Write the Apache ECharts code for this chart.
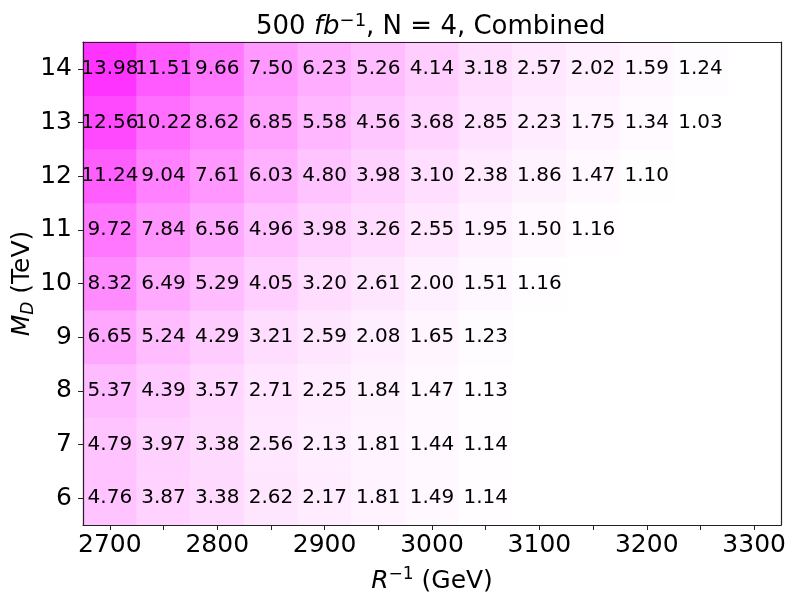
<!DOCTYPE html>
<html>
<head>
<meta charset="utf-8">
<script src="https://cdn.jsdelivr.net/npm/echarts@6/dist/echarts.min.js"></script>
<style>
  html, body { margin: 0; padding: 0; background: #fff; }
  #chart-main { width: 797px; height: 605px; }
</style>
</head>
<body>
<div id="chart-main"></div>
<script>
// R^-1 (GeV) bins, 50 GeV wide
const rInv = ['2700', '2750', '2800', '2850', '2900', '2950', '3000', '3050', '3100', '3150', '3200', '3250', '3300'];
// M_D (TeV)
const mD = ['6', '7', '8', '9', '10', '11', '12', '13', '14'];

// significance per M_D row, starting at R^-1 = 2700
const row6 = [4.76, 3.87, 3.38, 2.62, 2.17, 1.81, 1.49, 1.14];
const row7 = [4.79, 3.97, 3.38, 2.56, 2.13, 1.81, 1.44, 1.14];
const row8 = [5.37, 4.39, 3.57, 2.71, 2.25, 1.84, 1.47, 1.13];
const row9 = [6.65, 5.24, 4.29, 3.21, 2.59, 2.08, 1.65, 1.23];
const row10 = [8.32, 6.49, 5.29, 4.05, 3.20, 2.61, 2.00, 1.51, 1.16];
const row11 = [9.72, 7.84, 6.56, 4.96, 3.98, 3.26, 2.55, 1.95, 1.50, 1.16];
const row12 = [11.24, 9.04, 7.61, 6.03, 4.80, 3.98, 3.10, 2.38, 1.86, 1.47, 1.10];
const row13 = [12.56, 10.22, 8.62, 6.85, 5.58, 4.56, 3.68, 2.85, 2.23, 1.75, 1.34, 1.03];
const row14 = [13.98, 11.51, 9.66, 7.50, 6.23, 5.26, 4.14, 3.18, 2.57, 2.02, 1.59, 1.24];

const rows = [row6, row7, row8, row9, row10, row11, row12, row13, row14];

let cells = [];
rows.forEach((row, yi) => {
  row.forEach((v, xi) => {
    cells.push([xi, yi, v]);
  });
});

const font = 'DejaVu Sans';
const frameLine = { show: true, lineStyle: { color: '#222', width: 1.2 } };

// math-ish rich styles for titles
const rich = {
  t: { fontFamily: font, fontSize: 25, color: '#000', lineHeight: 30 },
  i: { fontFamily: font, fontSize: 25, fontStyle: 'italic', color: '#000', lineHeight: 30 },
  sup: { fontFamily: font, fontSize: 17, color: '#000', lineHeight: 17, verticalAlign: 'top' },
  sub: { fontFamily: font, fontSize: 17, fontStyle: 'italic', color: '#000', lineHeight: 17, verticalAlign: 'bottom' }
};
const titleRich = {
  t: { fontFamily: font, fontSize: 26, color: '#000', lineHeight: 30 },
  i: { fontFamily: font, fontSize: 26, fontStyle: 'italic', color: '#000', lineHeight: 30 },
  sup: { fontFamily: font, fontSize: 18, color: '#000', lineHeight: 17, verticalAlign: 'top' }
};

let myChart = echarts.init(document.getElementById('chart-main'));

let option = {
  animation: false,
  textStyle: { fontFamily: font },
  title: {
    left: 251,
    top: 7,
    text: '{t|500 }{i|fb}{sup|−1}{t|, N = 4, Combined}',
    textStyle: { fontWeight: 'normal', rich: titleRich }
  },
  grid: {
    left: 83,
    right: 16,
    top: 42,
    bottom: 80,
    outerBoundsMode: 'none',
    containLabel: false
  },
  xAxis: [
    {
      type: 'category',
      data: rInv,
      z: 10,
      name: '{i|R}{sup|−1}{t| (GeV)}',
      nameLocation: 'middle',
      nameGap: 41,
      nameMoveOverlap: false,
      nameTextStyle: { rich: rich },
      axisLine: frameLine,
      axisTick: { show: true, alignWithLabel: true, interval: 0, length: 5, lineStyle: { color: '#222', width: 1 } },
      axisLabel: { interval: 1, margin: 8, fontSize: 25, color: '#000', fontFamily: font },
      splitLine: { show: false }
    },
    {
      type: 'category',
      data: rInv,
      z: 10,
      position: 'top',
      axisLine: frameLine,
      axisTick: { show: false },
      axisLabel: { show: false },
      splitLine: { show: false }
    }
  ],
  yAxis: [
    {
      type: 'category',
      data: mD,
      z: 10,
      name: '{i|M}{sub|D}{t| (TeV)}',
      nameLocation: 'middle',
      nameRotate: 90,
      nameGap: 46,
      nameMoveOverlap: false,
      nameTextStyle: { rich: rich },
      axisLine: frameLine,
      axisTick: { show: true, alignWithLabel: true, interval: 0, length: 5, lineStyle: { color: '#222', width: 1 } },
      axisLabel: { interval: 0, margin: 11, fontSize: 25, color: '#000', fontFamily: font },
      splitLine: { show: false }
    },
    {
      type: 'category',
      data: mD,
      z: 10,
      position: 'right',
      axisLine: frameLine,
      axisTick: { show: false },
      axisLabel: { show: false },
      splitLine: { show: false }
    }
  ],
  visualMap: {
    show: false,
    min: 1.03,
    max: 13.98,
    dimension: 2,
    seriesIndex: 0,
    inRange: { color: ['#ffffff', '#ff33ff'] }
  },
  series: [
    {
      type: 'heatmap',
      data: cells,
      z: 1,
      label: {
        show: true,
        color: '#000',
        fontSize: 20,
        fontFamily: font,
        formatter: (p) => p.value[2].toFixed(2)
      },
      itemStyle: { borderWidth: 0 }
    }
  ]
};

myChart.setOption(option);
</script>
</body>
</html>
